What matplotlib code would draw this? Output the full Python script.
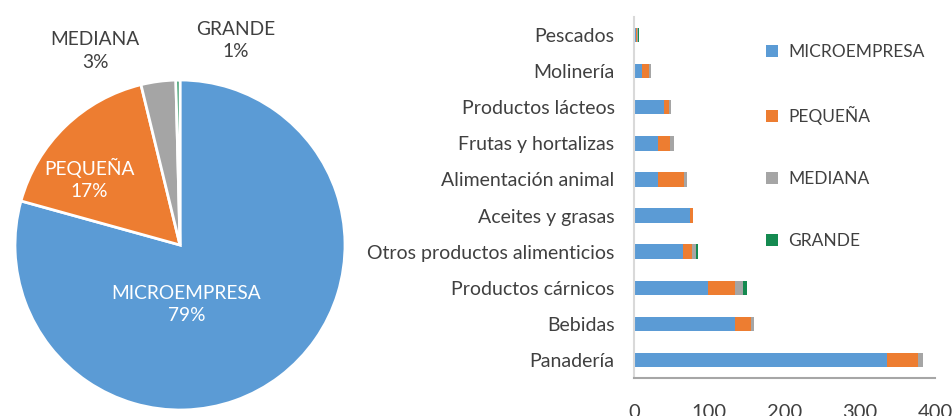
import matplotlib.pyplot as plt
import numpy as np

plt.rcParams['font.family'] = ['Lato', 'DejaVu Sans']

# pie shares (%)
sizes = ['MICROEMPRESA', 'PEQUEÑA', 'MEDIANA', 'GRANDE']
pie_share = [79.3, 16.9, 3.4, 0.4]
pie_text = ['79%', '17%', '3%', '1%']

# bar data, top to bottom
cats = ['Pescados', 'Molinería', 'Productos lácteos', 'Frutas y hortalizas',
        'Alimentación animal', 'Aceites y grasas', 'Otros productos alimenticios',
        'Productos cárnicos', 'Bebidas', 'Panadería']
micro = [2, 11, 40.5, 32.5, 32.5, 75, 64.5, 99, 134, 336]
pequena = [2, 8.5, 5.5, 16, 34.5, 3, 13, 35, 21, 42]
mediana = [1, 2.5, 3, 5, 3, 0, 5, 11, 5, 6]
grande = [2, 0, 0, 0, 0, 0, 3, 5, 0, 0]

colors = ['#5B9BD5', '#ED7D31', '#A5A5A5', '#148A50']
txt = '#404040'

fig = plt.figure(figsize=(9.52, 4.16), dpi=100)

# pie
ax1 = fig.add_axes([15/952, 6/416, 330/952, 330/416])
ax1.pie(pie_share, colors=colors, startangle=90, counterclock=False,
        wedgeprops=dict(edgecolor='white', linewidth=2))
ax1.set_xlim(-1, 1)
ax1.set_ylim(-1, 1)
ax1.set_aspect('equal')
label_pos = [(0.04, -0.36), (-0.55, 0.40), (-0.515, 1.176), (0.34, 1.24)]
label_col = ['white', 'white', txt, txt]
for name, pct, (x, y), c in zip(sizes, pie_text, label_pos, label_col):
    ax1.text(x, y, name + '\n' + pct, ha='center', va='center', fontsize=13.8,
             color=c, linespacing=1.4)

# stacked bars
ax2 = fig.add_axes([634/952, 38/416, 301/952, 361/416])
y = np.arange(len(cats))
left = np.zeros(len(cats))
for vals, c, name in zip([micro, pequena, mediana, grande], colors, sizes):
    ax2.barh(y, vals, left=left, height=0.4, color=c, label=name)
    left += np.array(vals)
ax2.set_yticks(y)
ax2.set_yticklabels(cats)
ax2.set_ylim(len(cats) - 0.5, -0.5)
ax2.set_xlim(0, 400)
ax2.set_xticks([0, 100, 200, 300, 400])
ax2.tick_params(axis='y', length=0, pad=14, labelsize=14, labelcolor=txt)
ax2.tick_params(axis='x', length=0, pad=19, labelsize=14.5, labelcolor=txt)
for s in ['top', 'right']:
    ax2.spines[s].set_visible(False)
ax2.spines['left'].set_color('#D9D9D9')
ax2.spines['left'].set_linewidth(1.5)
ax2.spines['bottom'].set_color('#A6A6A6')
ax2.spines['bottom'].set_linewidth(1.5)

leg = ax2.legend(loc='upper left', bbox_to_anchor=(0.415, 0.945), frameon=False,
                 fontsize=12.5, labelspacing=2.65, handlelength=0.7, handleheight=0.7,
                 handletextpad=0.6, borderaxespad=0)
for t in leg.get_texts():
    t.set_color(txt)

fig.savefig('out.png', dpi=100)
